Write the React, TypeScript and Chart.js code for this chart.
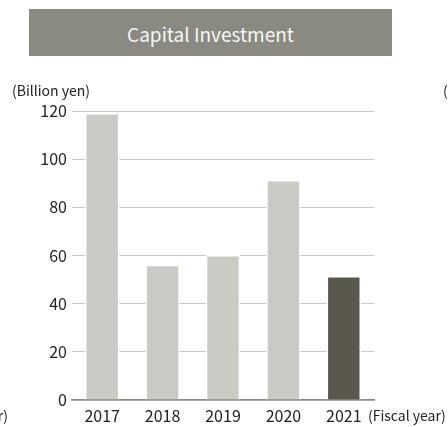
import React, { useEffect, useRef } from "react";
import { Chart, registerables } from "chart.js";

Chart.register(...registerables);

const categories = ["2017", "2018", "2019", "2020", "2021"];
const capitalInvestment = [119.2, 56.2, 60.2, 91.4, 51.5];
const yTicks = [0, 20, 40, 60, 80, 100, 120];
const barColors = ["#cbcbc6", "#cbcbc6", "#cbcbc6", "#cbcbc6", "#5a584c"];

const FONT = "'Noto Sans CJK JP', 'Noto Sans', sans-serif";

export default function App() {
  const ref = useRef<HTMLCanvasElement | null>(null);

  useEffect(() => {
    document.body.style.margin = "0";
    const ctx = ref.current!;
    const chart = new Chart(ctx, {
      type: "bar",
      data: {
        labels: categories,
        datasets: [
          {
            data: capitalInvestment,
            backgroundColor: barColors,
            borderColor: "#ffffff",
            borderWidth: 1.5,
            borderSkipped: "start",
            barPercentage: 0.57,
            categoryPercentage: 1,
          },
        ],
      },
      options: {
        animation: false,
        responsive: false,
        maintainAspectRatio: false,
        devicePixelRatio: 1,
        layout: { padding: { top: 111, right: 74, left: 0, bottom: 0 } },
        plugins: {
          legend: { display: false },
          tooltip: { enabled: false },
          title: { display: false },
        },
        scales: {
          x: {
            z: 1,
            grid: { display: false, drawTicks: false },
            border: { display: true, color: "#8a8a82", width: 1.5 },
            ticks: {
              color: "#222222",
              font: { family: FONT, size: 16 },
              padding: 6,
              maxRotation: 0,
            },
            afterFit: (s: any) => {
              s.height = 27;
            },
          },
          y: {
            min: 0,
            max: 120,
            afterBuildTicks: (s: any) => {
              s.ticks = yTicks.map((v) => ({ value: v }));
            },
            grid: { color: "#c9c9c4", lineWidth: 1, drawTicks: false },
            border: { display: false },
            ticks: {
              color: "#222222",
              font: { family: FONT, size: 16 },
              padding: 5,
            },
            afterFit: (s: any) => {
              s.width = 72;
            },
          },
        },
      },
    });
    return () => chart.destroy();
  }, []);

  const textStyle: React.CSSProperties = {
    position: "absolute",
    fontFamily: FONT,
    fontSize: 14,
    color: "#222222",
    whiteSpace: "nowrap",
    lineHeight: "16px",
  };

  return (
    <div
      style={{
        position: "absolute",
        left: 0,
        top: 0,
        width: 448,
        height: 427,
        overflow: "hidden",
        background: "#ffffff",
      }}
    >
      <div
        style={{
          position: "absolute",
          left: 29,
          top: 9,
          width: 363,
          height: 47,
          paddingTop: 2,
          boxSizing: "border-box",
          background: "#8a8a82",
          color: "#f7f7f2",
          fontFamily: FONT,
          fontSize: 19,
          display: "flex",
          alignItems: "center",
          justifyContent: "center",
        }}
      >
        Capital Investment
      </div>
      <canvas
        ref={ref}
        width={448}
        height={427}
        style={{ position: "absolute", left: 0, top: 0, width: 448, height: 427 }}
      />
      <span style={{ ...textStyle, left: 12, top: 82 }}>(Billion yen)</span>
      <span style={{ ...textStyle, left: 443, top: 82 }}>(Billion yen)</span>
      <span style={{ ...textStyle, left: 368, top: 407 }}>(Fiscal year)</span>
      <span style={{ ...textStyle, right: 440, top: 407 }}>(Fiscal year)</span>
    </div>
  );
}
